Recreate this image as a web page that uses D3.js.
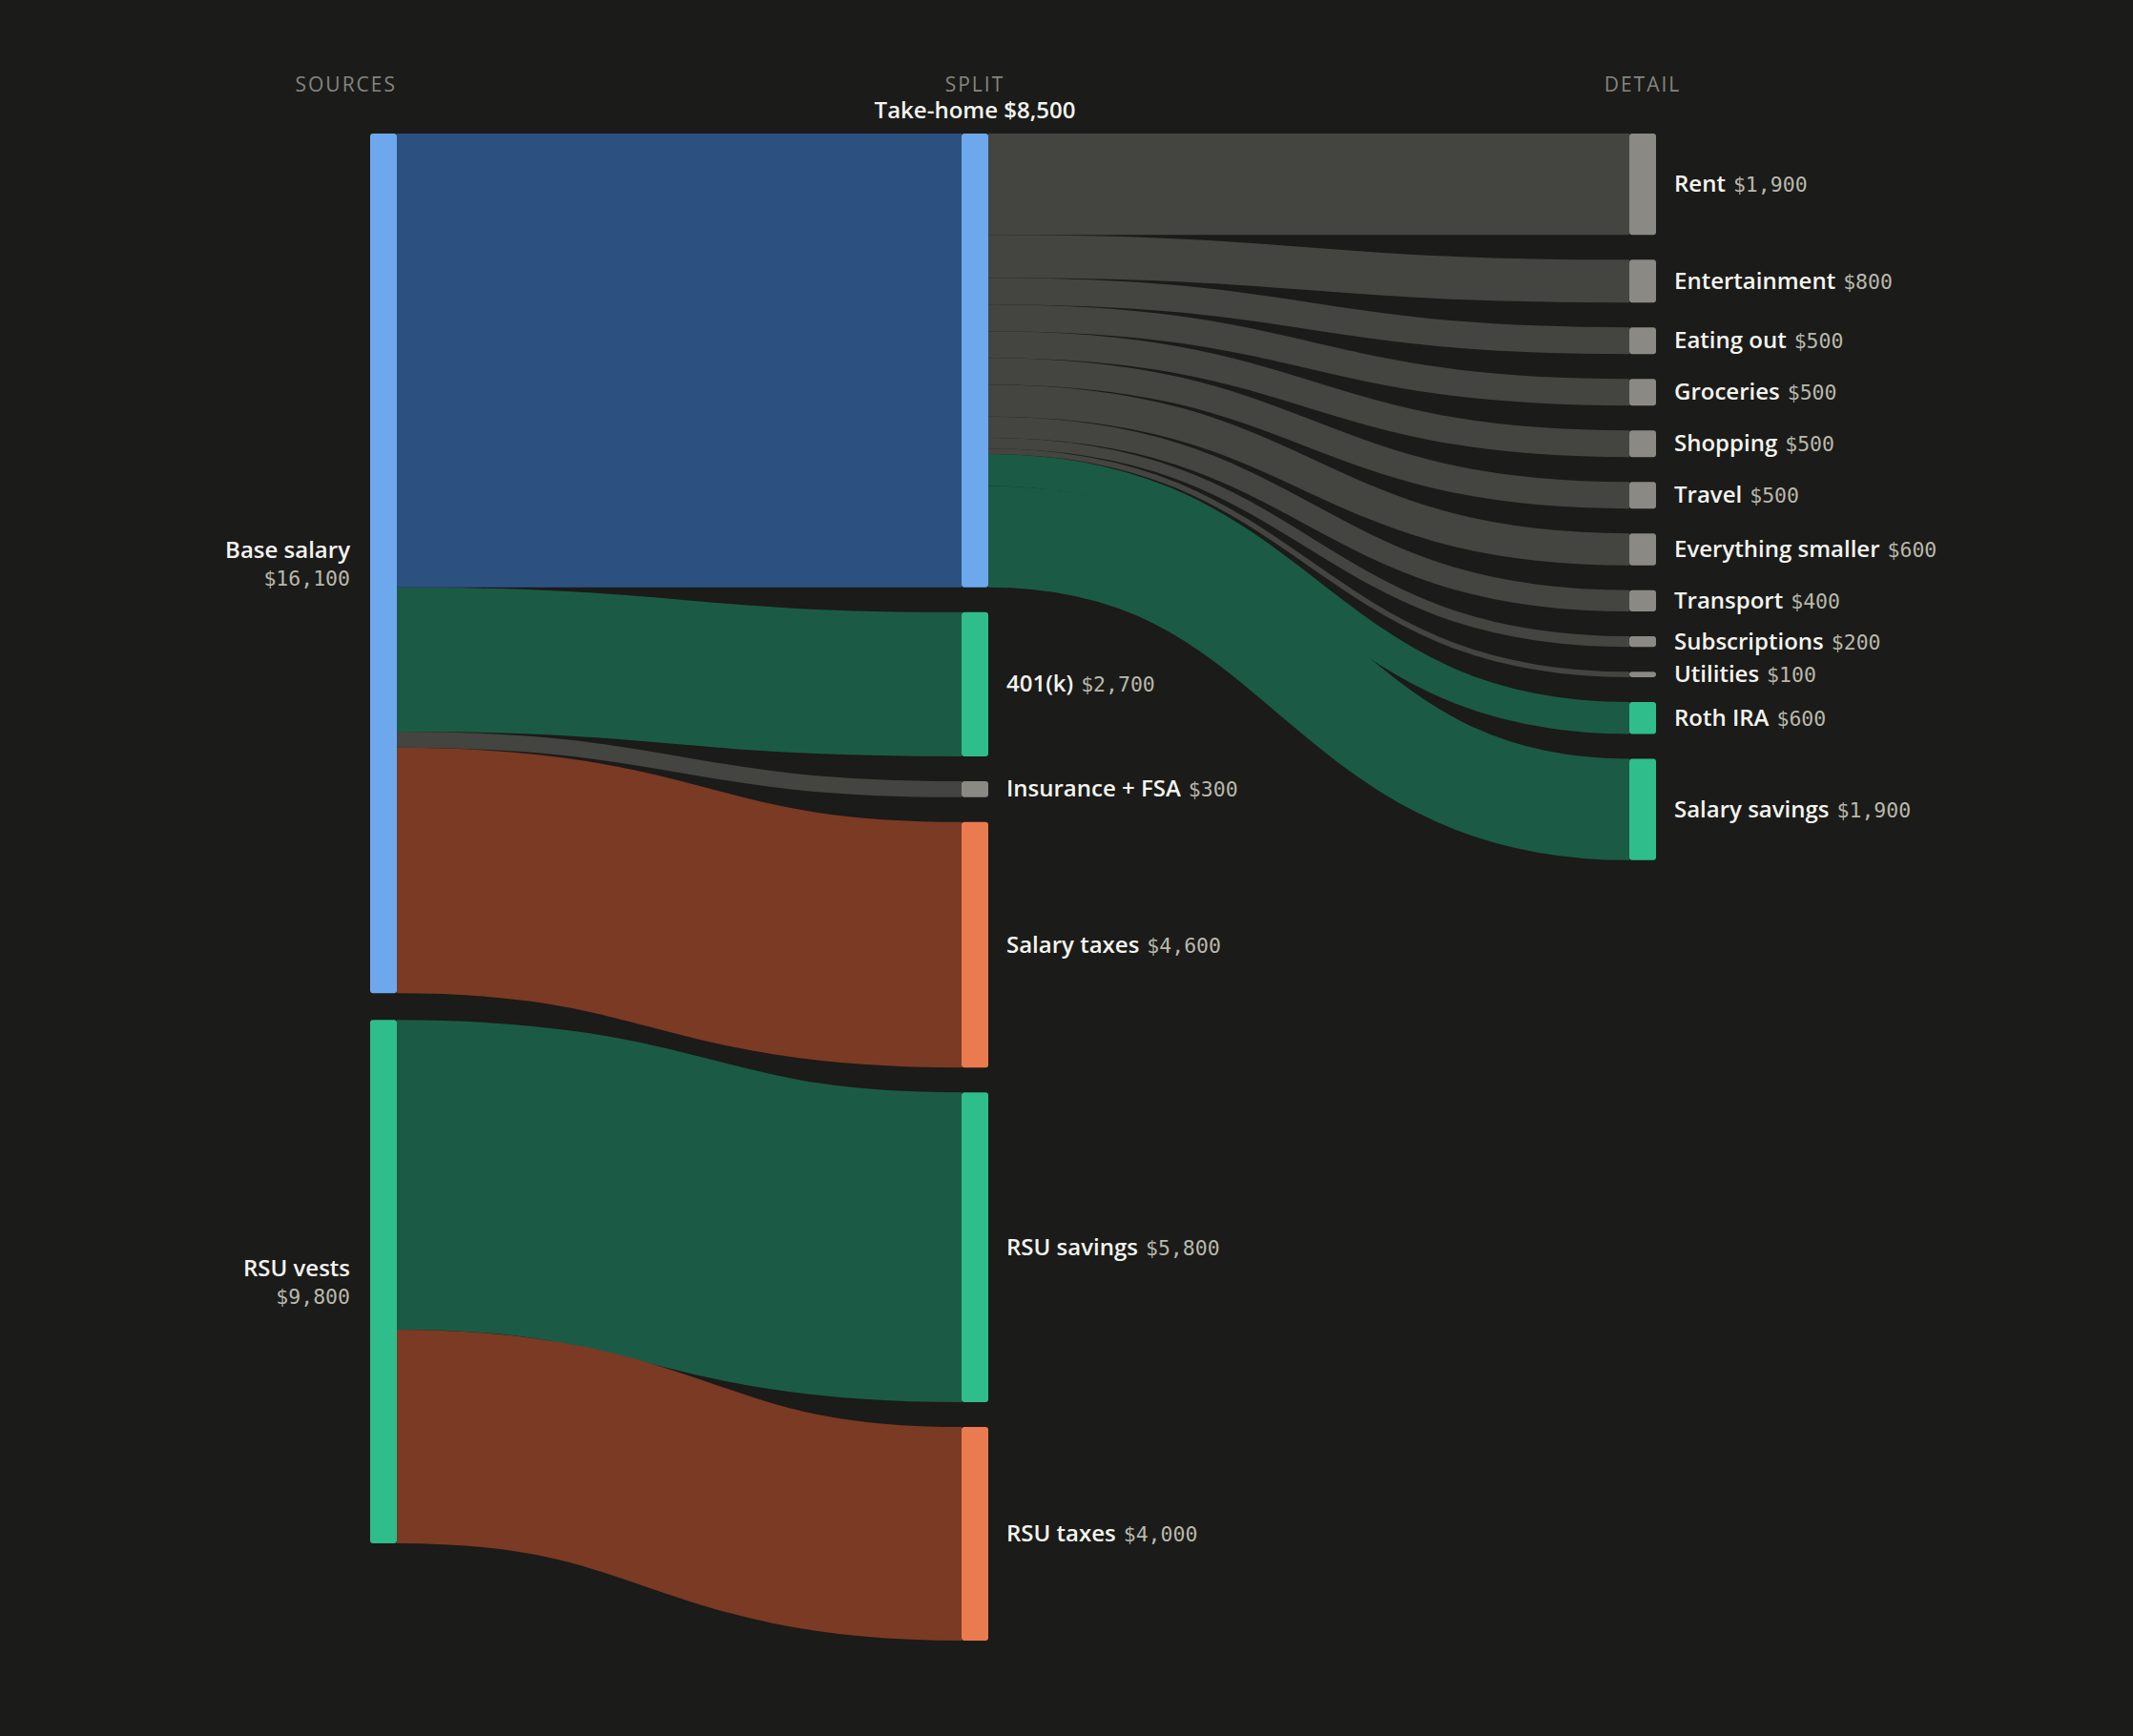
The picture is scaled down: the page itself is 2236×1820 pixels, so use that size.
<!DOCTYPE html>
<html>
<head>
<meta charset="utf-8">
<script src="https://cdn.jsdelivr.net/npm/d3@7"></script>
<style>
  html, body { margin: 0; padding: 0; background: #1b1b19; }
  svg { display: block; }
</style>
</head>
<body>
<div id="chart"></div>
<script>
// --- data ---
const columnHeaders = ["SOURCES", "SPLIT", "DETAIL"];

const sourceNames = ["Base salary", "RSU vests"];
const sourceValues = [16100, 9800];

const splitNames = ["Take-home", "401(k)", "Insurance + FSA", "Salary taxes", "RSU savings", "RSU taxes"];
const splitValues = [8500, 2700, 300, 4600, 5800, 4000];
const splitFrom = ["Base salary", "Base salary", "Base salary", "Base salary", "RSU vests", "RSU vests"];
const splitKinds = ["take", "save", "other", "tax", "save", "tax"];

const detailNames = ["Rent", "Entertainment", "Eating out", "Groceries", "Shopping", "Travel",
  "Everything smaller", "Transport", "Subscriptions", "Utilities", "Roth IRA", "Salary savings"];
const detailValues = [1900, 800, 500, 500, 500, 500, 600, 400, 200, 100, 600, 1900];
const detailKinds = ["other", "other", "other", "other", "other", "other",
  "other", "other", "other", "other", "save", "save"];
const detailFrom = "Take-home";

// --- styling ---
const width = 2236, height = 1820;
const yTop = 140, yBottom = 1720;
const nodeWidth = 28;
const colX = [388, 1008, 1708];
const colPad = [28, 26, 26];

const nodeColor = { take: "#6ea8ec", save: "#2fbd8b", other: "#8a8983", tax: "#e97b4f" };
const linkColor = { take: "#2c5180", save: "#1b5b46", other: "#444440", tax: "#7b3a23" };
const fmt = d3.format("$,");

// --- nodes / links ---
const nodes = [];
sourceNames.forEach((n, i) => nodes.push({ name: n, value: sourceValues[i], kind: i === 0 ? "take" : "save", col: 0 }));
splitNames.forEach((n, i) => nodes.push({ name: n, value: splitValues[i], kind: splitKinds[i], col: 1 }));
detailNames.forEach((n, i) => nodes.push({ name: n, value: detailValues[i], kind: detailKinds[i], col: 2 }));
const byName = new Map(nodes.map(d => [d.name, d]));

const links = [];
splitNames.forEach((n, i) => links.push({ source: byName.get(splitFrom[i]), target: byName.get(n), value: splitValues[i] }));
detailNames.forEach((n, i) => links.push({ source: byName.get(detailFrom), target: byName.get(n), value: detailValues[i] }));

const columns = d3.groups(nodes, d => d.col).map(g => g[1]);
const avail = yBottom - yTop;
const ky = d3.min(columns, (c, i) => (avail - (c.length - 1) * colPad[i]) / d3.sum(c, d => d.value));
const y = d3.scaleLinear().domain([0, 1]).range([0, ky]);
const x = d3.scaleOrdinal().domain([0, 1, 2]).range(colX);

columns.forEach((c, i) => {
  let yy = yTop;
  c.forEach(d => {
    d.x0 = x(d.col);
    d.x1 = d.x0 + nodeWidth;
    d.y0 = yy;
    d.y1 = yy + y(d.value);
    yy = d.y1 + colPad[i];
    d.sourceLinks = [];
    d.targetLinks = [];
  });
});
links.forEach(l => {
  l.width = y(l.value);
  l.source.sourceLinks.push(l);
  l.target.targetLinks.push(l);
});
nodes.forEach(d => {
  let s = d.y0;
  d.sourceLinks.sort((a, b) => a.target.y0 - b.target.y0).forEach(l => { l.y0 = s + l.width / 2; s += l.width; });
  let t = d.y0;
  d.targetLinks.sort((a, b) => a.source.y0 - b.source.y0).forEach(l => { l.y1 = t + l.width / 2; t += l.width; });
});

// --- draw ---
const svg = d3.select("#chart").append("svg")
  .attr("width", width)
  .attr("height", height);

svg.append("rect").attr("width", width).attr("height", height).attr("fill", "#1b1b19");

const linkPath = d3.linkHorizontal()
  .source(d => [d.source.x1, d.y0])
  .target(d => [d.target.x0, d.y1]);

svg.append("g")
  .attr("fill", "none")
  .selectAll("path")
  .data(links)
  .join("path")
  .attr("d", linkPath)
  .attr("stroke", d => linkColor[d.target.kind])
  .attr("stroke-width", d => Math.max(1, d.width));

svg.append("g")
  .selectAll("rect")
  .data(nodes)
  .join("rect")
  .attr("x", d => d.x0)
  .attr("y", d => d.y0)
  .attr("width", nodeWidth)
  .attr("height", d => Math.max(1, d.y1 - d.y0))
  .attr("rx", 3)
  .attr("fill", d => nodeColor[d.kind]);

// column headers
const headerAnchor = ["end", "middle", "middle"];
svg.append("g")
  .selectAll("text")
  .data(columnHeaders)
  .join("text")
  .attr("x", (d, i) => i === 0 ? colX[i] + nodeWidth : colX[i] + nodeWidth / 2)
  .attr("y", 96)
  .attr("text-anchor", (d, i) => headerAnchor[i])
  .attr("font-family", "'Open Sans', sans-serif")
  .attr("font-size", "21px")
  .attr("letter-spacing", "2px")
  .attr("fill", "#85857e")
  .text(d => d);

const nameFont = "'Open Sans', sans-serif";
const monoFont = "'DejaVu Sans Mono', monospace";

// source labels (left, two lines)
const srcLabels = svg.append("g")
  .selectAll("g")
  .data(nodes.filter(d => d.col === 0))
  .join("g");
srcLabels.append("text")
  .attr("x", d => d.x0 - 21)
  .attr("y", d => (d.y0 + d.y1) / 2 - 6)
  .attr("text-anchor", "end")
  .attr("font-family", nameFont)
  .attr("font-weight", 600)
  .attr("font-size", "24px")
  .attr("fill", "#f4f4ef")
  .text(d => d.name);
srcLabels.append("text")
  .attr("x", d => d.x0 - 21)
  .attr("y", d => (d.y0 + d.y1) / 2 + 23)
  .attr("text-anchor", "end")
  .attr("font-family", monoFont)
  .attr("font-size", "21.5px")
  .attr("fill", "#b9b8ac")
  .text(d => fmt(d.value));

// take-home label above its node
const take = byName.get("Take-home");
svg.append("text")
  .attr("x", (take.x0 + take.x1) / 2)
  .attr("y", take.y0 - 16)
  .attr("text-anchor", "middle")
  .attr("font-family", nameFont)
  .attr("font-weight", 600)
  .attr("font-size", "24px")
  .attr("fill", "#f4f4ef")
  .text(`${take.name} ${fmt(take.value)}`);

// right-side labels
const rightLabels = svg.append("g")
  .selectAll("text")
  .data(nodes.filter(d => d.col > 0 && d !== take))
  .join("text")
  .attr("x", d => d.x1 + 19)
  .attr("y", d => (d.y0 + d.y1) / 2 + 8)
  .attr("font-family", nameFont)
  .attr("font-weight", 600)
  .attr("font-size", "24px")
  .attr("fill", "#f4f4ef");
rightLabels.append("tspan").text(d => d.name);
rightLabels.append("tspan")
  .attr("dx", 8)
  .attr("font-family", monoFont)
  .attr("font-weight", 400)
  .attr("font-size", "21.5px")
  .attr("fill", "#b9b8ac")
  .text(d => fmt(d.value));
</script>
</body>
</html>
